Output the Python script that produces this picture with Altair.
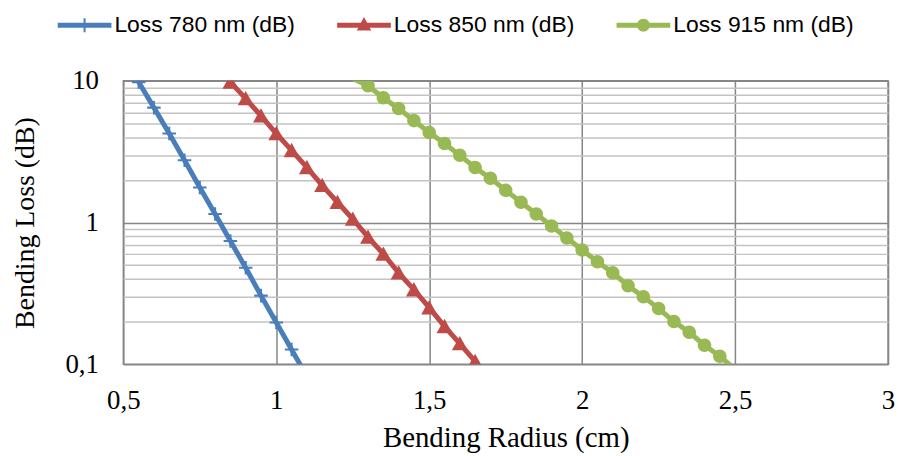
import altair as alt
import pandas as pd

series_names = ["Loss 780 nm (dB)", "Loss 850 nm (dB)", "Loss 915 nm (dB)"]
colors = ["#4A7EBB", "#BE4B48", "#98B954"]

r780 = [0.55, 0.60, 0.65, 0.70, 0.75, 0.80, 0.85, 0.90, 0.95, 1.00, 1.05, 1.10]
l780 = [9.8, 6.47, 4.25, 2.75, 1.77, 1.15, 0.741, 0.48, 0.305, 0.197, 0.127, 0.082]

r850 = [0.85, 0.90, 0.95, 1.00, 1.05, 1.10, 1.15, 1.20, 1.25, 1.30, 1.35, 1.40,
        1.45, 1.50, 1.55, 1.60, 1.65]
l850 = [9.8, 7.5, 5.67, 4.25, 3.23, 2.45, 1.83, 1.39, 1.06, 0.79, 0.60, 0.442,
        0.336, 0.251, 0.185, 0.140, 0.105]

r915 = [1.25, 1.30, 1.35, 1.40, 1.45, 1.50, 1.55, 1.60, 1.65, 1.70, 1.75, 1.80,
        1.85, 1.90, 1.95, 2.00, 2.05, 2.10, 2.15, 2.20, 2.25, 2.30, 2.35, 2.40,
        2.45, 2.50]
l915 = [10.4, 9.23, 7.6, 6.37, 5.24, 4.32, 3.61, 2.98, 2.45, 2.05, 1.69, 1.39,
        1.15, 0.945, 0.778, 0.641, 0.528, 0.442, 0.358, 0.300, 0.247, 0.200,
        0.168, 0.136, 0.114, 0.092]

x_ticks = [0.5, 1, 1.5, 2, 2.5, 3]
y_major = [0.1, 1, 10]
y_minor = [0.2, 0.3, 0.4, 0.5, 0.6, 0.7, 0.8, 0.9, 2, 3, 4, 5, 6, 7, 8, 9]

rows = []
for name, rs, ls in zip(series_names, [r780, r850, r915], [l780, l850, l915]):
    for r, l in zip(rs, ls):
        rows.append({"series": name, "radius": r, "loss": l})
df = pd.DataFrame(rows)

marker_paths = [
    "M-0.85,-0.13H0.85V0.13H-0.85Z M-0.13,-0.85H0.13V0.85H-0.13Z",
    "M0,-0.95L1,0.85H-1Z",
    "M0.85,0A0.85,0.85 0 1,1 -0.85,0A0.85,0.85 0 1,1 0.85,0Z",
]
legend_paths = [
    "M-1,-0.093H1V0.093H-1Z M-0.037,-0.26H0.037V0.26H-0.037Z",
    "M-1,-0.093H1V0.093H-1Z M0,-0.30L0.27,0.2H-0.27Z",
    "M-1,-0.093H1V0.093H-1Z M0.24,0A0.24,0.24 0 1,1 -0.24,0A0.24,0.24 0 1,1 0.24,0Z",
]

x_scale = alt.Scale(domain=[0.5, 3], nice=False, zero=False)
y_scale = alt.Scale(type="log", domain=[0.1, 10], nice=False)
color_scale = alt.Scale(domain=series_names, range=colors)
comma = "replace(format(datum.value, '~g'), '.', ',')"

lines = alt.Chart(df).mark_line(clip=True, strokeWidth=5).encode(
    x=alt.X("radius:Q", scale=x_scale,
            axis=alt.Axis(values=x_ticks, labelExpr=comma, title="Bending Radius (cm)",
                          grid=True, labelFlush=False, labelOverlap=False,
                          labelPadding=24, titleY=83, titleBaseline="alphabetic",
                          titleFontSize=29)),
    y=alt.Y("loss:Q", scale=y_scale,
            axis=alt.Axis(values=y_major, labelExpr=comma, title="Bending Loss (dB)",
                          grid=True, labelFlush=False, labelOverlap=False,
                          labelPadding=25, titleX=-98, titleBaseline="middle",
                          titleFontSize=28)),
    color=alt.Color("series:N", scale=color_scale, legend=None),
    order="radius:Q",
)

points = alt.Chart(df).transform_filter(
    "datum.loss >= 0.1 && datum.loss <= 10"
).mark_point(filled=True, opacity=1, size=256, clip=True).encode(
    x=alt.X("radius:Q", scale=x_scale, axis=None),
    y=alt.Y("loss:Q", scale=y_scale,
            axis=alt.Axis(orient="right", values=y_minor, labels=False, ticks=False,
                          domain=False, title=None, grid=True,
                          gridColor="#c3c3c3", gridWidth=1.5)),
    color=alt.Color("series:N", scale=color_scale, legend=None),
    shape=alt.Shape("series:N", scale=alt.Scale(domain=series_names, range=marker_paths),
                    legend=None),
)

leg = dict(title=None, orient="none", legendX=-66, legendY=-83, direction="horizontal",
           columns=3, labelFont="Liberation Sans", labelFontSize=23, labelColor="black",
           labelLimit=400, labelOffset=3, columnPadding=42, symbolSize=2916,
           symbolStrokeWidth=0, padding=0)

legend_layer = alt.Chart(df).transform_filter("false").mark_point(
    filled=True, opacity=1, size=2916
).encode(
    x=alt.X("radius:Q", scale=x_scale, axis=None),
    y=alt.Y("loss:Q", scale=y_scale, axis=None),
    color=alt.Color("series:N", scale=color_scale, legend=alt.Legend(**leg)),
    shape=alt.Shape("series:N", scale=alt.Scale(domain=series_names, range=legend_paths),
                    legend=alt.Legend(**leg)),
)

chart = alt.layer(lines, points, legend_layer).resolve_scale(
    shape="independent"
).resolve_axis(
    x="independent", y="independent"
).resolve_legend(
    color="independent", shape="independent"
).properties(
    width=769, height=285,
    autosize=alt.AutoSizeParams(type="none"),
    padding={"left": 116, "top": 72, "right": 8, "bottom": 90},
).configure_view(
    stroke="#868686", strokeWidth=1.5
).configure_axis(
    labelFont="Liberation Serif", labelFontSize=27, labelColor="black",
    titleFont="Liberation Serif", titleFontSize=27, titleFontWeight="normal",
    titleColor="black", ticks=False, domain=False,
    gridColor="#868686", gridWidth=1.5,
)

chart.save("out.html", embed_options={"renderer": "svg", "actions": False})
